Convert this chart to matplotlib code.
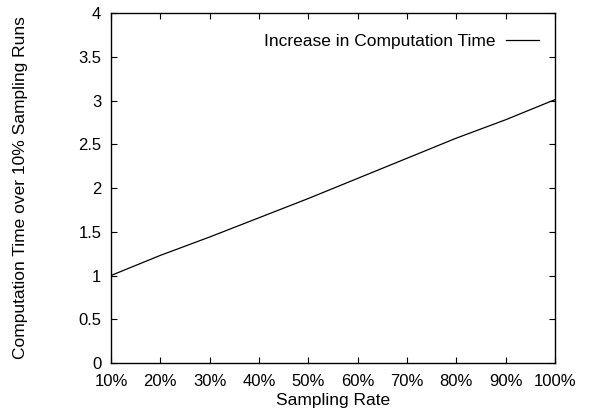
import matplotlib
matplotlib.use("Agg")
import matplotlib.pyplot as plt

plt.rcParams['font.family'] = ['Liberation Sans', 'DejaVu Sans']

sampling_rate = [10, 20, 30, 40, 50, 60, 70, 80, 90, 100]
increase = [1.0, 1.23, 1.44, 1.66, 1.88, 2.11, 2.34, 2.57, 2.78, 3.01]
x_tick_labels = ["10%", "20%", "30%", "40%", "50%", "60%", "70%", "80%", "90%", "100%"]
y_ticks = [0, 0.5, 1, 1.5, 2, 2.5, 3, 3.5, 4]
y_tick_labels = ["0", "0.5", "1", "1.5", "2", "2.5", "3", "3.5", "4"]

fig = plt.figure(figsize=(5.89, 4.09), dpi=100)
ax = fig.add_axes([111 / 589, 1 - 363 / 409, 444 / 589, 350 / 409])

ax.plot(sampling_rate, increase, color="black", lw=0.9, label="Increase in Computation Time")

ax.set_xlim(10, 100)
ax.set_ylim(0, 4)
ax.set_xticks(sampling_rate)
ax.set_xticklabels(x_tick_labels)
ax.set_yticks(y_ticks)
ax.set_yticklabels(y_tick_labels)
ax.tick_params(direction="in", top=True, right=True, length=4, width=0.8, labelsize=12, pad=7)
ax.tick_params(axis="x", pad=8)
for s in ax.spines.values():
    s.set_linewidth(1.0)

ax.set_xlabel("Sampling Rate", fontsize=12.5, labelpad=3)
ax.set_ylabel("Computation Time over 10% Sampling Runs", fontsize=12.5, labelpad=36)

ax.legend(loc="upper right", bbox_to_anchor=(1.0, 0.985), frameon=False, markerfirst=False,
          fontsize=12.5, handlelength=1.9, handletextpad=0.6)

fig.savefig("out.png", dpi=100)
